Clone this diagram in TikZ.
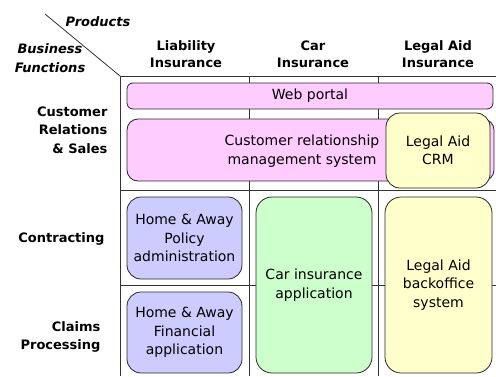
\documentclass[tikz,border=0pt]{standalone}
\usepackage{fontspec}
\setmainfont{DejaVu Sans}
\definecolor{appPink}{HTML}{FFCCFF}
\definecolor{appBlue}{HTML}{CCCCFF}
\definecolor{appGreen}{HTML}{CCFFCC}
\definecolor{appYellow}{HTML}{FFFFCC}
\begin{document}
\begin{tikzpicture}[x=1pt, y=-1pt,
  gridline/.style={draw=black!80, line width=0.8pt},
  app/.style={draw=black!85, line width=0.8pt, inner sep=0pt, align=center,
    font=\fontsize{14}{18.5}\selectfont},
  head/.style={align=center, font=\bfseries\fontsize{13}{17}\selectfont},
  axislab/.style={align=center, font=\bfseries\itshape\fontsize{13}{19}\selectfont},
  rowlab/.style={align=right, anchor=east, font=\bfseries\fontsize{13}{18.5}\selectfont}]
\useasboundingbox (0,0) rectangle (496,376);

% matrix grid
\coordinate (corner) at (120,76);
\draw[gridline] (45,14) -- (corner);
\draw[gridline] (corner) -- (496,76);
\draw[gridline] (120,190) -- (496,190);
\draw[gridline] (120,285) -- (496,285);
\draw[gridline] (corner) -- (120,376);
\draw[gridline] (249,76) -- (249,376);
\draw[gridline] (378,76) -- (378,376);

% axis titles
\node[axislab] (products) at (98,22) {Products};
\node[axislab] (functions) at (50,58.5) {Business\\Functions};

% product columns
\node[head] (liability) at (186,54.5) {Liability\\Insurance};
\node[head] (carins) at (313,54.5) {Car\\Insurance};
\node[head] (legalins) at (438,54.5) {Legal Aid\\Insurance};

% business function rows
\node[rowlab] (crs) at (111,130) {Customer\\Relations\\\& Sales};
\node[rowlab] (contracting) at (108,239) {Contracting};
\node[rowlab] (claims) at (104,337) {Claims\\Processing};

% applications
\node[app, fill=appPink, rounded corners=6pt, minimum width=366pt, minimum height=26pt]
  (web) at (310,96) {Web portal};
\node[app, fill=appPink, rounded corners=11pt, minimum width=367pt, minimum height=62pt]
  (crm) at (310.5,150) {};
\node[align=center, font=\fontsize{14}{18.5}\selectfont]
  (crmtext) at (302,151) {Customer relationship\\management system};
\node[app, fill=appYellow, rounded corners=14pt, minimum width=104pt, minimum height=75pt]
  (lacrm) at (438,150.5) {Legal Aid\\CRM};
\node[app, fill=appBlue, rounded corners=14pt, minimum width=115pt, minimum height=82pt]
  (hapolicy) at (184.5,238) {Home \& Away\\Policy\\administration};
\node[app, fill=appBlue, rounded corners=14pt, minimum width=115pt, minimum height=81pt]
  (hafinance) at (184.5,332.5) {Home \& Away\\Financial\\application};
\node[app, fill=appGreen, rounded corners=16pt, minimum width=116pt, minimum height=176pt]
  (carapp) at (314,285) {Car insurance\\application};
\node[app, fill=appYellow, rounded corners=16pt, minimum width=107pt, minimum height=176pt]
  (labo) at (438.5,285) {Legal Aid\\backoffice\\system};
\end{tikzpicture}
\end{document}
